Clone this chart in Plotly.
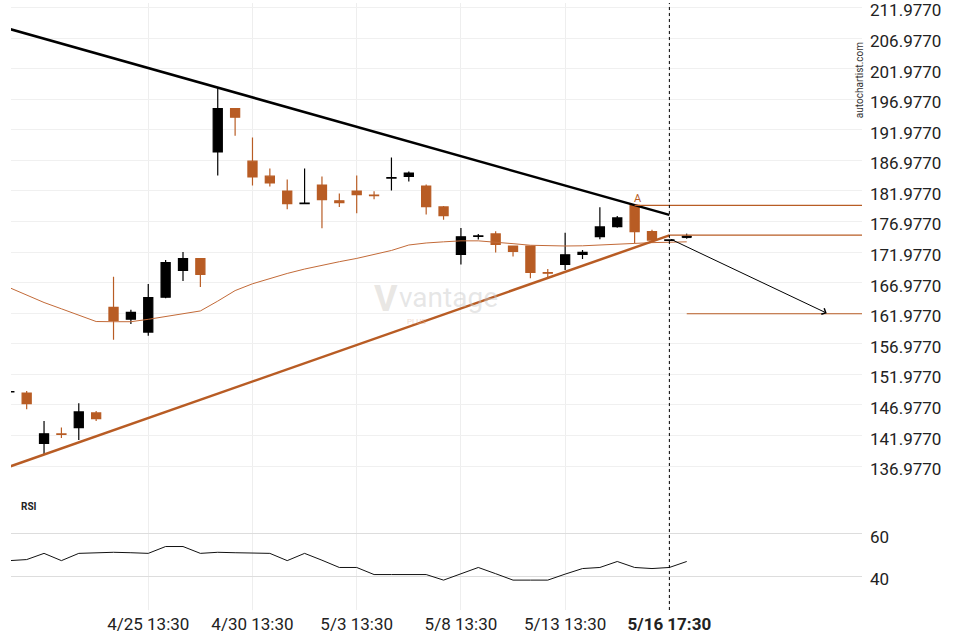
import plotly.graph_objects as go

ORANGE = "#b85c24"
MA_COLOR = "#c26a38"

# ---------------- data ----------------
candle_idx = list(range(39))
opens = [149.10, 148.93, 140.68, 142.25, 143.28, 145.67, 162.92, 161.01, 158.90, 164.59,
         168.98, 170.89, 188.34, 195.45, 186.83, 184.39, 181.95, 179.90, 182.93, 180.37,
         181.95, 181.28, 184.07, 184.34, 182.77, 179.35, 171.59, 174.55, 174.95, 172.95,
         172.95, 168.60, 169.96, 171.59, 174.51, 176.14, 179.62, 175.33, 173.90]
highs = [149.30, 149.25, 144.37, 143.28, 147.25, 145.99, 167.96, 162.54, 166.77, 170.68,
         171.98, 170.95, 198.87, 195.50, 190.69, 185.64, 183.85, 185.64, 184.34, 181.57,
         184.50, 181.90, 187.43, 185.15, 183.04, 179.51, 175.93, 174.95, 175.39, 173.00,
         172.98, 169.21, 175.12, 172.30, 179.30, 177.88, 179.65, 175.61, 174.00]
lows = [148.95, 146.27, 138.95, 141.56, 141.23, 144.37, 157.66, 160.20, 158.31, 164.43,
        167.26, 166.28, 184.50, 191.01, 182.88, 182.71, 178.98, 179.88, 175.88, 179.33,
        178.32, 180.60, 182.06, 183.53, 178.10, 177.28, 169.96, 174.03, 171.91, 171.26,
        167.68, 167.91, 169.05, 170.84, 174.09, 175.97, 173.38, 173.65, 173.85]
closes = [149.15, 147.19, 142.26, 142.17, 145.84, 144.75, 160.80, 162.10, 164.54, 170.24,
          170.89, 168.33, 195.45, 194.04, 184.28, 183.30, 179.88, 179.97, 180.53, 180.05,
          181.35, 181.22, 184.15, 184.88, 179.40, 177.93, 174.47, 174.62, 173.21, 172.08,
          168.66, 168.52, 171.54, 171.91, 176.09, 177.56, 175.33, 173.93, 173.96]

# last (forming) candle, drawn hollow
last_idx = [39]
last_open = [174.35]
last_high = [175.00]
last_low = [174.14]
last_close = [174.58]

line_idx = list(range(40))
ma_values = [166.17, 164.95, 163.73, 162.70, 161.66, 160.62, 160.59, 160.59, 160.98, 161.43,
             161.89, 162.35, 163.96, 165.68, 166.79, 167.64, 168.48, 169.20, 169.85, 170.40,
             170.94, 171.59, 172.24, 173.13, 173.46, 173.65, 173.81, 173.81, 173.62, 173.35,
             173.09, 172.97, 172.97, 173.00, 173.09, 173.23, 173.39, 173.52, 173.59, 173.65]
rsi_values = [47.4, 47.9, 50.8, 47.4, 50.8, 51.0, 51.3, 51.1, 50.8, 54.0,
              54.0, 50.8, 51.3, 51.1, 50.8, 50.8, 47.4, 50.8, 47.6, 44.2,
              44.2, 40.9, 40.9, 40.9, 40.9, 38.3, 41.3, 44.2, 41.3, 38.3,
              38.3, 38.3, 41.1, 43.7, 44.2, 47.0, 44.2, 43.7, 44.2, 47.0]

resist_x = [0, 38]
resist_y = [208.47, 178.05]
support_x = [0, 38]
support_y = [136.87, 174.71]

level_a_x = [36, 50]
level_a_y = [179.62, 179.62]
level_b_x = [38, 50]
level_b_y = [174.74, 174.74]
target_x = [39, 50]
target_y = [161.89, 161.89]
forecast_x = [38, 47.06]
forecast_y = [174.19, 161.99]

signal_idx = 38
pattern_label_x = 36.2
pattern_label_y = 180.75

tick_idx = [8, 14, 20, 26, 32, 38]
tick_text = ["4/25 13:30", "4/30 13:30", "5/3 13:30", "5/8 13:30", "5/13 13:30", "<b>5/16 17:30</b>"]
price_ticks = [136.977 + 5 * k for k in range(16)]
rsi_ticks = [40, 60]

# ---------------- figure ----------------
fig = go.Figure()

fig.add_trace(go.Candlestick(
    x=candle_idx, open=opens, high=highs, low=lows, close=closes,
    increasing=dict(line=dict(color="#000000", width=1.2), fillcolor="#000000"),
    decreasing=dict(line=dict(color=ORANGE, width=1.2), fillcolor=ORANGE),
    whiskerwidth=0, xaxis="x", yaxis="y", showlegend=False))

fig.add_trace(go.Candlestick(
    x=last_idx, open=last_open, high=last_high, low=last_low, close=last_close,
    increasing=dict(line=dict(color="#000000", width=1), fillcolor="#ffffff"),
    decreasing=dict(line=dict(color="#000000", width=1), fillcolor="#ffffff"),
    whiskerwidth=0, xaxis="x", yaxis="y", showlegend=False))

fig.add_trace(go.Scatter(x=line_idx, y=ma_values, mode="lines",
                         line=dict(color=MA_COLOR, width=1), xaxis="x", yaxis="y", showlegend=False))

fig.add_trace(go.Scatter(x=resist_x, y=resist_y, mode="lines",
                         line=dict(color="#000000", width=2.5), xaxis="x", yaxis="y", showlegend=False))
fig.add_trace(go.Scatter(x=support_x, y=support_y, mode="lines",
                         line=dict(color=ORANGE, width=2.5), xaxis="x", yaxis="y", showlegend=False))

for lx, ly in [(level_a_x, level_a_y), (level_b_x, level_b_y), (target_x, target_y)]:
    fig.add_trace(go.Scatter(x=lx, y=ly, mode="lines",
                             line=dict(color=ORANGE, width=1.2), xaxis="x", yaxis="y", showlegend=False))

fig.add_trace(go.Scatter(x=line_idx, y=rsi_values, mode="lines",
                         line=dict(color="#111111", width=1), xaxis="x", yaxis="y2", showlegend=False))

fig.add_shape(type="line", xref="x", yref="paper", x0=signal_idx, x1=signal_idx, y0=0, y1=1,
              line=dict(color="#000000", width=1, dash="dot"), layer="above")

fig.add_annotation(x=forecast_x[1], y=forecast_y[1], ax=forecast_x[0], ay=forecast_y[0],
                   xref="x", yref="y", axref="x", ayref="y", text="", showarrow=True,
                   arrowhead=4, arrowsize=1.3, arrowwidth=1, arrowcolor="#000000")

fig.add_annotation(x=pattern_label_x, y=pattern_label_y, xref="x", yref="y", text="A",
                   showarrow=False, font=dict(family="Roboto", size=11, color=ORANGE))

# watermark
fig.add_annotation(x=0.441, y=0.512, xref="paper", yref="paper", text="<b>V</b>", showarrow=False,
                   font=dict(family="Roboto", size=36, color="rgba(215,210,205,0.55)"))
fig.add_annotation(x=0.514, y=0.515, xref="paper", yref="paper", text="vantage", showarrow=False,
                   font=dict(family="Roboto", size=28, color="rgba(200,200,200,0.45)"))
fig.add_annotation(x=0.477, y=0.476, xref="paper", yref="paper", text="PLUS", showarrow=False,
                   font=dict(family="Roboto", size=8, color="rgba(230,180,150,0.5)"))

fig.add_annotation(x=0.0095, y=0.1738, xref="paper", yref="paper", text="<b>RSI</b>",
                   showarrow=False, xanchor="left", yshift=-9,
                   font=dict(family="Roboto", size=10, color="#222222"))

fig.add_annotation(x=1.0, y=0.938, xref="paper", yref="paper", text="autochartist.com",
                   showarrow=False, textangle=-90, xshift=5,
                   font=dict(family="Roboto", size=10, color="#333333"))

fig.update_layout(
    width=960, height=640,
    margin=dict(l=11, r=98, t=0, b=30),
    paper_bgcolor="#ffffff", plot_bgcolor="#ffffff",
    boxgap=0.25,
    showlegend=False,
    font=dict(family="Roboto", color="#222222"),
    xaxis=dict(range=[0.098, 49.09], anchor="y2", tickmode="array", tickvals=tick_idx,
               ticktext=tick_text, showgrid=True, gridcolor="#eeeeee", gridwidth=1,
               zeroline=False, showline=False, ticks="", rangeslider=dict(visible=False),
               ticklabelstandoff=2,
               tickfont=dict(family="Roboto", size=17, color="#222222")),
    yaxis=dict(domain=[0.19, 1], range=[132.31, 212.70], side="right", anchor="x",
               tickmode="array", tickvals=price_ticks, tickformat=".4f",
               showgrid=True, gridcolor="#f0f0f0", zeroline=False, showline=False, ticks="",
               ticklabelstandoff=7, ticklabelshift=3, ticklabeloverflow="allow",
               tickfont=dict(family="Roboto", size=17, color="#222222")),
    yaxis2=dict(domain=[0, 0.19], range=[24.33, 78.23], side="right", anchor="x",
                tickmode="array", tickvals=rsi_ticks, showgrid=True, gridcolor="#dddddd",
                zeroline=False, showline=False, ticks="",
                ticklabelstandoff=7, ticklabelshift=3,
                tickfont=dict(family="Roboto", size=17, color="#222222")),
)

fig.write_html("out.html", config={"displayModeBar": False},
               post_script="document.body.style.margin='0';")
